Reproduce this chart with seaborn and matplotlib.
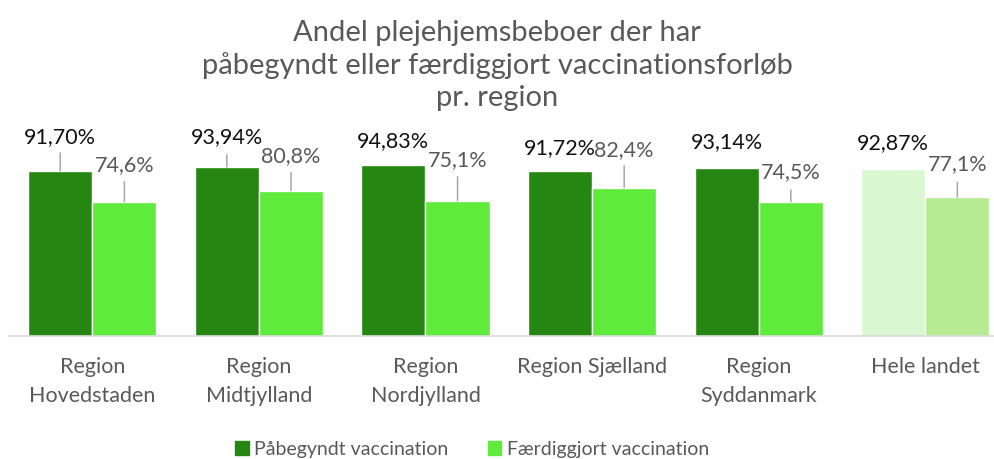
import matplotlib.pyplot as plt
import seaborn as sns
import pandas as pd
from matplotlib.patches import Patch

regions = ["Region\nHovedstaden", "Region\nMidtjylland", "Region\nNordjylland",
           "Region Sjælland", "Region\nSyddanmark", "Hele landet"]
started = [91.70, 93.94, 94.83, 91.72, 93.14, 92.87]
completed = [74.6, 80.8, 75.1, 82.4, 74.5, 77.1]
series = ["Påbegyndt vaccination", "Færdiggjort vaccination"]

# label placement (pixels above bar top, leader line length in pixels)
started_dy = [34, 30, 24, 23, 26, 26]
started_line = [18, 12, 0, 0, 0, 0]
completed_dy = [37, 34, 41, 38, 30, 33]
completed_line = [20, 18, 24, 22, 12, 15]

df = pd.DataFrame({
    "region": regions * 2,
    "serie": [series[0]] * 6 + [series[1]] * 6,
    "value": started + completed,
})

sns.set_style("white")
plt.rcParams["font.family"] = ["Lato", "DejaVu Sans"]

grey = "#595959"
dark, light = "#268612", "#5EEB3C"
dark_total, light_total = "#D9F8D2", "#B6EB94"

fig = plt.figure(figsize=(9.94, 4.59), dpi=100)
ax = fig.add_axes([9 / 994, 123 / 459, 6 * 166.6 / 994, 216 / 459])

sns.barplot(data=df, x="region", y="value", hue="serie", palette=[dark, light],
            width=0.77, gap=0, saturation=1, ax=ax, legend=False)

ax.containers[0].patches[-1].set_facecolor(dark_total)
ax.containers[1].patches[-1].set_facecolor(light_total)

ax.set_xlim(-0.5, 5.5)
ax.set_ylim(0, 120)
ax.set_xlabel("")
ax.set_ylabel("")
ax.set_yticks([])
ax.tick_params(axis="x", length=0, labelsize=15.5, labelcolor=grey, pad=15)
for t in ax.get_xticklabels():
    t.set_linespacing(1.55)
for s in ["top", "right", "left"]:
    ax.spines[s].set_visible(False)
ax.spines["bottom"].set_color("#D9D9D9")
ax.spines["bottom"].set_linewidth(1.2)

px = 0.72  # points per pixel at 100 dpi


def label(bars, values, dys, lines, fmt, color):
    for bar, v, dy, ln in zip(bars, values, dys, lines):
        x = bar.get_x() + bar.get_width() / 2
        ax.annotate(fmt(v), (x, v), xytext=(0, dy * px), textcoords="offset points",
                    ha="center", va="center", fontsize=15.5, color=color)
        if ln:
            ax.annotate("", (x, v), xytext=(0, ln * px), textcoords="offset points",
                        arrowprops=dict(arrowstyle="-", color="#A6A6A6", lw=1.1,
                                        shrinkA=0, shrinkB=0))


label(ax.containers[0].patches, started, started_dy, started_line,
      lambda v: f"{v:.2f}%".replace(".", ","), "#111111")
label(ax.containers[1].patches, completed, completed_dy, completed_line,
      lambda v: f"{v:.1f}%".replace(".", ","), grey)

fig.text(0.5, 0.858, "Andel plejehjemsbeboer der har\npåbegyndt eller færdiggjort vaccinationsforløb\npr. region",
         ha="center", va="center", fontsize=21, color=grey, linespacing=1.28)

handles = [Patch(color=dark), Patch(color=light)]
fig.legend(handles, series, loc="center", bbox_to_anchor=(0.475, 10 / 459), ncol=2,
           frameon=False, fontsize=14, labelcolor=grey, handlelength=0.7,
           handleheight=0.7, handletextpad=0.3, columnspacing=2.0)

fig.savefig("out.png", dpi=100)
